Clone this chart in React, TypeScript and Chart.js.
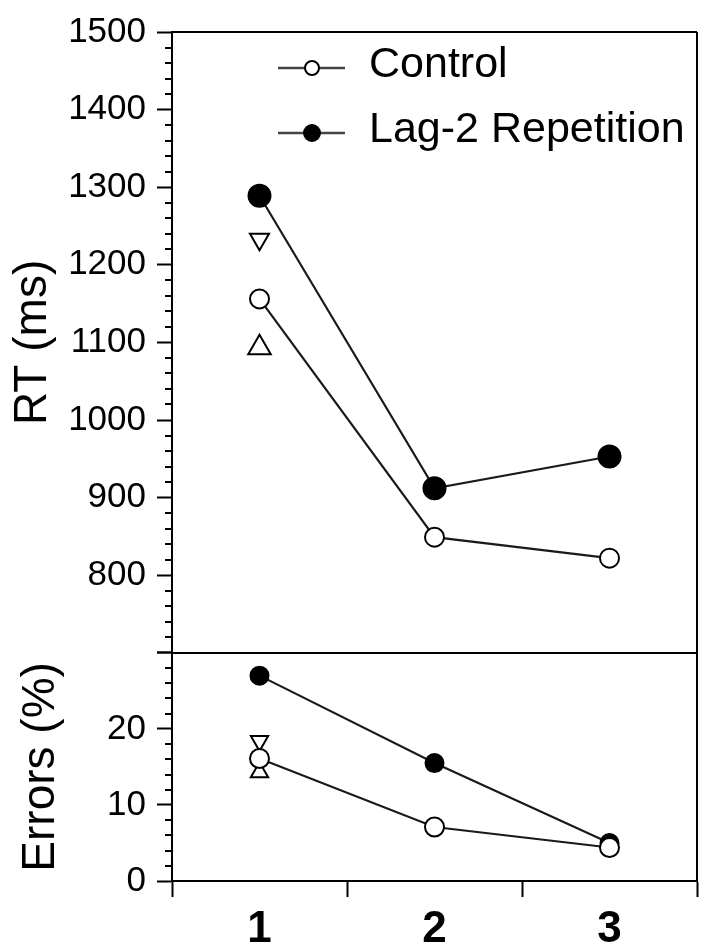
import { useEffect, useRef } from 'react';
import { Chart, registerables } from 'chart.js';

Chart.register(...registerables);

// ---- data ----
const conditions = [1, 2, 3];
const xTickLabels = ['1', '2', '3'];
const rtControl = [1156, 849, 822];
const rtLag2 = [1289, 912, 953];
const rtTriDown = [1233];
const rtTriUp = [1093];
const errControl = [16.1, 7.1, 4.4];
const errLag2 = [27.0, 15.5, 5.0];
const errTriDown = [18.4];
const errTriUp = [14.3];
const legendLabels = ['Control', 'Lag-2 Repetition'];
const rtRange = [700, 1500];
const errRange = [0, 30];
const rtMajorStep = 100;
const rtMinorStep = 20;
const errMajorStep = 10;
const errMinorStep = 2;

const FONT = '"Liberation Sans", Arial, Helvetica, sans-serif';

const pts = (vals: number[]) => vals.map((v, i) => ({ x: conditions[i], y: v }));

const framePlugin = {
  id: 'frameAndLegend',
  afterDraw(chart: any) {
    const { ctx, chartArea: ca, scales } = chart;
    const rt = scales.rt;
    const err = scales.err;
    ctx.save();
    ctx.strokeStyle = '#000';
    ctx.lineWidth = 2;
    // top border, right border, divider
    ctx.beginPath();
    ctx.moveTo(ca.left, ca.top);
    ctx.lineTo(ca.right, ca.top);
    ctx.moveTo(ca.right, ca.top);
    ctx.lineTo(ca.right, ca.bottom);
    const dy = Math.round(rt.getPixelForValue(rtRange[0]));
    ctx.moveTo(ca.left, dy);
    ctx.lineTo(ca.right, dy);
    ctx.stroke();
    // minor ticks
    ctx.beginPath();
    for (let v = rtRange[0]; v <= rtRange[1]; v += rtMinorStep) {
      if (v % rtMajorStep === 0) continue;
      const y = Math.round(rt.getPixelForValue(v));
      ctx.moveTo(ca.left, y);
      ctx.lineTo(ca.left - 7, y);
    }
    for (let v = errRange[0]; v <= errRange[1]; v += errMinorStep) {
      if (v % errMajorStep === 0) continue;
      const y = Math.round(err.getPixelForValue(v));
      ctx.moveTo(ca.left, y);
      ctx.lineTo(ca.left - 7, y);
    }
    ctx.stroke();

    // legend
    const rows = [
      { y: 68, fill: '#fff', r: 7, label: legendLabels[0] },
      { y: 133, fill: '#000', r: 8, label: legendLabels[1] },
    ];
    rows.forEach((row) => {
      ctx.strokeStyle = '#444';
      ctx.lineWidth = 2.5;
      ctx.beginPath();
      ctx.moveTo(278, row.y);
      ctx.lineTo(345, row.y);
      ctx.stroke();
      ctx.beginPath();
      ctx.arc(312, row.y, row.r, 0, Math.PI * 2);
      ctx.fillStyle = row.fill;
      ctx.fill();
      ctx.strokeStyle = '#000';
      ctx.lineWidth = 2;
      ctx.stroke();
      ctx.fillStyle = '#000';
      ctx.font = `43px ${FONT}`;
      ctx.textAlign = 'left';
      ctx.textBaseline = 'middle';
      ctx.fillText(row.label, 369, row.y - 3);
    });
    ctx.restore();
  },
};

export default function App() {
  const ref = useRef<HTMLCanvasElement | null>(null);

  useEffect(() => {
    if (!ref.current) return;
    const lineBase = {
      borderColor: '#1a1a1a',
      borderWidth: 2.2,
      pointBorderColor: '#000',
      pointBorderWidth: 2,
      pointStyle: 'circle',
      tension: 0,
    };
    const chart = new Chart(ref.current, {
      type: 'line',
      data: {
        datasets: [
          { ...lineBase, label: 'Control RT', data: pts(rtControl), yAxisID: 'rt', pointRadius: 9.5, pointBackgroundColor: '#fff' },
          { ...lineBase, label: 'Lag-2 RT', data: pts(rtLag2), yAxisID: 'rt', pointRadius: 11, pointBackgroundColor: '#000' },
          { ...lineBase, label: 'RT down', data: pts(rtTriDown), yAxisID: 'rt', showLine: false, pointStyle: 'triangle', pointRotation: 180, pointRadius: 11, pointBackgroundColor: '#fff' },
          { ...lineBase, label: 'RT up', data: pts(rtTriUp), yAxisID: 'rt', showLine: false, pointStyle: 'triangle', pointRadius: 13, pointBackgroundColor: '#fff' },
          { ...lineBase, label: 'Control Err', data: pts(errControl), yAxisID: 'err', pointRadius: 9.5, pointBackgroundColor: '#fff' },
          { ...lineBase, label: 'Lag-2 Err', data: pts(errLag2), yAxisID: 'err', pointRadius: 9, pointBackgroundColor: '#000' },
          { ...lineBase, label: 'Err down', data: pts(errTriDown), yAxisID: 'err', showLine: false, pointStyle: 'triangle', pointRotation: 180, pointRadius: 10, pointBackgroundColor: '#fff' },
          { ...lineBase, label: 'Err up', data: pts(errTriUp), yAxisID: 'err', showLine: false, pointStyle: 'triangle', pointRadius: 10, pointBackgroundColor: '#fff' },
        ],
      },
      options: {
        responsive: false,
        animation: false,
        layout: { padding: { top: 29, right: 14, left: 0, bottom: 0 } },
        plugins: { legend: { display: false }, tooltip: { enabled: false } },
        scales: {
          x: {
            type: 'linear',
            position: 'bottom',
            min: 0.5,
            max: 3.5,
            ticks: {
              stepSize: 0.5,
              autoSkip: false,
              maxRotation: 0,
              color: '#000',
              padding: 6,
              font: { size: 44, weight: 'bold', family: FONT },
              callback: (v: any) => {
                const i = conditions.indexOf(Number(v));
                return i >= 0 ? xTickLabels[i] : '';
              },
            },
            grid: {
              drawOnChartArea: false,
              drawTicks: true,
              tickLength: 16,
              tickWidth: 2,
              tickColor: (c: any) => (conditions.includes(c.tick?.value) ? 'rgba(0,0,0,0)' : '#000'),
            },
            border: { color: '#000', width: 2 },
            afterFit: (s: any) => { s.height = 71; },
          },
          err: {
            type: 'linear',
            position: 'left',
            stack: 'panels',
            stackWeight: 229,
            weight: 0,
            min: errRange[0],
            max: errRange[1],
            ticks: {
              stepSize: errMajorStep,
              autoSkip: false,
              color: '#000',
              padding: 11,
              font: { size: 35, family: FONT },
              callback: (v: any) => (v === errRange[1] ? '' : String(v)),
            },
            grid: { drawOnChartArea: false, tickLength: 15, tickWidth: 2, tickColor: '#000' },
            border: { color: '#000', width: 2 },
            title: { display: true, text: 'Errors (%)', color: '#000', font: { size: 46, family: FONT }, padding: { top: 14, bottom: 0 } },
            afterFit: (s: any) => { s.width = 172; },
          },
          rt: {
            type: 'linear',
            position: 'left',
            stack: 'panels',
            stackWeight: 623,
            weight: 1,
            min: rtRange[0],
            max: rtRange[1],
            ticks: {
              stepSize: rtMajorStep,
              autoSkip: false,
              color: '#000',
              padding: 11,
              font: { size: 35, family: FONT },
              callback: (v: any) => (v === rtRange[0] ? '' : String(v)),
            },
            grid: { drawOnChartArea: false, tickLength: 15, tickWidth: 2, tickColor: '#000' },
            border: { color: '#000', width: 2 },
            title: { display: true, text: 'RT (ms)', color: '#000', font: { size: 46, family: FONT }, padding: { top: 6, bottom: 0 } },
            afterFit: (s: any) => { s.width = 172; },
          },
        },
      } as any,
      plugins: [framePlugin],
    });
    return () => chart.destroy();
  }, []);

  return (
    <div style={{ position: 'absolute', left: 0, top: 0, width: 712, height: 952, background: '#fff' }}>
      <canvas ref={ref} width={712} height={952} />
    </div>
  );
}
